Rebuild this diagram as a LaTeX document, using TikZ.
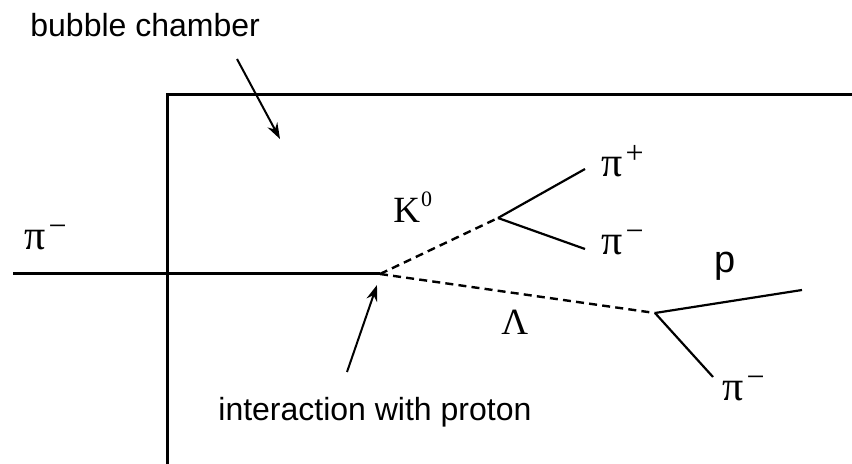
\documentclass[tikz,border=0pt]{standalone}
\usepackage{fontspec}
\setmainfont{Liberation Sans}
\newfontfamily\serf{Liberation Serif}
\usepackage{tikz}
\usetikzlibrary{arrows.meta}

% particle symbol with charge
\newcommand\ptl[2]{{\fontsize{21}{24}\selectfont #1}\kern1.5pt\raisebox{6.5pt}{\fontsize{16}{16}\selectfont #2}}

\begin{document}
\begin{tikzpicture}[x=0.5pt,y=-0.5pt]
\tikzset{
  wall/.style={line width=1.5pt},
  beamline/.style={line width=1.5pt},
  track/.style={line width=1.1pt},
  neutral/.style={line width=1.2pt,dash pattern=on 4pt off 2.6pt},
  pointer/.style={line width=1pt,-{Stealth[length=8pt,width=5.5pt]}},
  caption/.style={font=\fontsize{16}{19}\selectfont,inner sep=0pt,anchor=base west},
  particle/.style={font=\serf\fontsize{18.5}{21}\selectfont,inner sep=0pt,anchor=base west}
}
\useasboundingbox (0,0) rectangle (852,464);

% chamber walls
\draw[wall] (852,95) -- (167,95) -- (167,470);

% vertices
\coordinate (in) at (13,274);
\coordinate (v) at (380,274);
\coordinate (k) at (498,218);
\coordinate (l) at (655,313);
\coordinate (kp) at (585,169);
\coordinate (km) at (585,249);
\coordinate (lp) at (802,290);
\coordinate (lm) at (713,377);

\path
(in) edge [beamline] (v)
(v) edge [neutral] (k)
(v) edge [neutral] (l)
(k) edge [track] (kp)
(k) edge [track] (km)
(l) edge [track] (lp)
(l) edge [track] (lm);

% labels
\node (bc) at (30,37) [caption] {bubble chamber};
\node (ip) at (218,421) [caption] {interaction with proton};
\node (pin) at (24,250) [particle] {\ptl{π}{−}};
\node (k0) at (393,223) [particle] {K\kern0.5pt\raisebox{8pt}{\fontsize{11}{11}\selectfont 0}};
\node (pip) at (601,177) [particle] {\ptl{π}{+}};
\node (pim) at (601,255) [particle] {\ptl{π}{−}};
\node (lam) at (501,335) [particle] {Λ};
\node (pr) at (714,273) [caption,font=\fontsize{19}{22}\selectfont] {p};
\node (pim2) at (722,401) [particle] {\ptl{π}{−}};

% pointers
\coordinate (bct) at (237,59);
\coordinate (bch) at (280,139);
\coordinate (ipt) at (347,372);
\coordinate (iph) at (377,285);
\path
(bct) edge [pointer] (bch)
(ipt) edge [pointer] (iph);
\end{tikzpicture}
\end{document}
